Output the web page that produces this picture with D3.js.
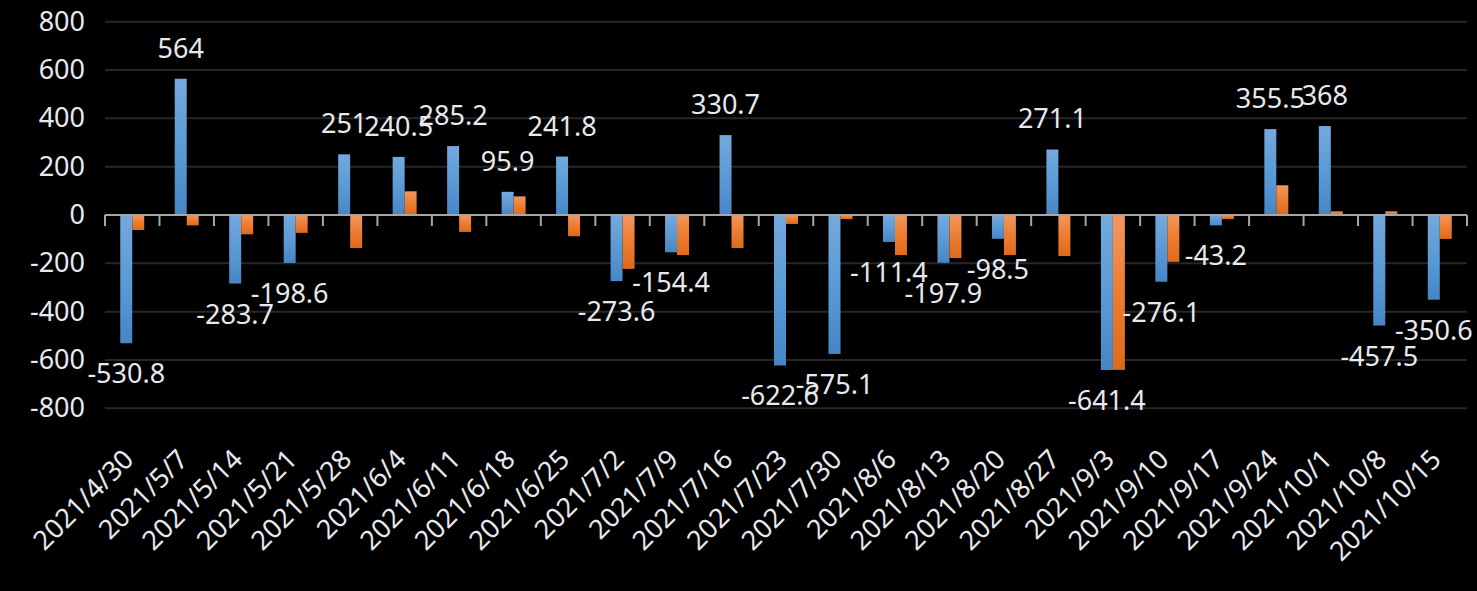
<!DOCTYPE html>
<html>
<head>
<meta charset="utf-8">
<script src="https://cdn.jsdelivr.net/npm/d3@7"></script>
<style>
  html, body { margin: 0; padding: 0; background: #000; }
  text { font-family: "Noto Sans", "DejaVu Sans", sans-serif; fill: #e6e9ee; }
</style>
</head>
<body>
<svg id="chart"></svg>
<script>
// categories (weekly dates)
var dates = ['2021/4/30','2021/5/7','2021/5/14','2021/5/21','2021/5/28','2021/6/4','2021/6/11',
  '2021/6/18','2021/6/25','2021/7/2','2021/7/9','2021/7/16','2021/7/23','2021/7/30','2021/8/6',
  '2021/8/13','2021/8/20','2021/8/27','2021/9/3','2021/9/10','2021/9/17','2021/9/24','2021/10/1',
  '2021/10/8','2021/10/15'];

// blue series (labelled)
var blueVals = [-530.8, 564, -283.7, -198.6, 251, 240.5, 285.2, 95.9, 241.8, -273.6, -154.4, 330.7,
  -622.6, -575.1, -111.4, -197.9, -98.5, 271.1, -641.4, -276.1, -43.2, 355.5, 368, -457.5, -350.6];

// orange series (no labels)
var orangeVals = [-62, -43, -80, -74, -137, 98, -70, 77, -88, -223, -166, -137,
  -37, -17, -166, -178, -166, -170, -641, -194, -17, 123, 15, 15, -99];

var yTicks = [-800, -600, -400, -200, 0, 200, 400, 600, 800];

var W = 1477, H = 591;
var mLeft = 105, mRight = 1467, mTop = 21.7, mBottom = 408.3;

var svg = d3.select('#chart').attr('width', W).attr('height', H);

// gradients for the bars
var defs = svg.append('defs');
var addGrad = function(id, c1, c2, c3) {
  var g = defs.append('linearGradient').attr('id', id)
    .attr('x1', 0).attr('y1', 0).attr('x2', 0).attr('y2', 1);
  g.append('stop').attr('offset', '0%').attr('stop-color', c1);
  g.append('stop').attr('offset', '50%').attr('stop-color', c2);
  g.append('stop').attr('offset', '100%').attr('stop-color', c3);
};
addGrad('gBlue', '#74a9dd', '#5b9bd5', '#4786c6');
addGrad('gOrange', '#f2975e', '#ed7d31', '#df691b');

var x = d3.scaleBand().domain(dates).range([mLeft, mRight]).paddingInner(0.56).paddingOuter(0.28);
var y = d3.scaleLinear().domain([-800, 800]).range([mBottom, mTop]);

// gridlines
svg.append('g').selectAll('line')
  .data(yTicks.filter(function(d) { return d !== 0; }))
  .enter().append('line')
  .attr('x1', mLeft).attr('x2', mRight)
  .attr('y1', function(d) { return y(d); }).attr('y2', function(d) { return y(d); })
  .attr('stroke', '#272727').attr('stroke-width', 2);

// y axis labels (plain hyphen for negatives)
var yAxis = svg.append('g').attr('transform', 'translate(' + (mLeft - 20) + ',0)')
  .call(d3.axisLeft(y).tickValues(yTicks).tickSize(0).tickPadding(0)
    .tickFormat(function(d) { return String(d); }));
yAxis.select('.domain').remove();
yAxis.selectAll('text').attr('font-size', 27).attr('fill', '#e6e9ee')
  .style('font-family', '"Noto Sans", sans-serif');

// bars
var half = x.bandwidth() / 2;
svg.append('g').selectAll('rect').data(blueVals).enter().append('rect')
  .attr('x', function(d, i) { return x(dates[i]); })
  .attr('width', half)
  .attr('y', function(d) { return y(Math.max(0, d)); })
  .attr('height', function(d) { return Math.abs(y(d) - y(0)); })
  .attr('fill', 'url(#gBlue)');

svg.append('g').selectAll('rect').data(orangeVals).enter().append('rect')
  .attr('x', function(d, i) { return x(dates[i]) + half; })
  .attr('width', half)
  .attr('y', function(d) { return y(Math.max(0, d)); })
  .attr('height', function(d) { return Math.abs(y(d) - y(0)); })
  .attr('fill', 'url(#gOrange)');

// zero axis with ticks at category boundaries
var xAxis = svg.append('g').attr('transform', 'translate(0,' + y(0) + ')');
xAxis.append('line').attr('x1', mLeft).attr('x2', mRight)
  .attr('stroke', '#a6a6a6').attr('stroke-width', 2);
var step = x.step();
xAxis.selectAll('line.tk').data(d3.range(dates.length + 1)).enter().append('line')
  .attr('class', 'tk')
  .attr('x1', function(i) { return mLeft + i * step; })
  .attr('x2', function(i) { return mLeft + i * step; })
  .attr('y1', 0).attr('y2', 11)
  .attr('stroke', '#a6a6a6').attr('stroke-width', 2);

// category labels, rotated
svg.append('g').selectAll('text').data(dates).enter().append('text')
  .attr('transform', function(d) {
    var cx = x(d) + half;
    return 'translate(' + (cx + 3) + ',461) rotate(-45)';
  })
  .attr('text-anchor', 'end')
  .attr('font-size', 27)
  .text(function(d) { return d; });

// data labels for blue series
svg.append('g').selectAll('text').data(blueVals).enter().append('text')
  .attr('x', function(d, i) { return x(dates[i]) + half / 2; })
  .attr('y', function(d) { return d >= 0 ? y(d) - 21 : y(d) + 40; })
  .attr('text-anchor', 'middle')
  .attr('font-size', 27)
  .text(function(d) { return d; });
</script>
</body>
</html>
